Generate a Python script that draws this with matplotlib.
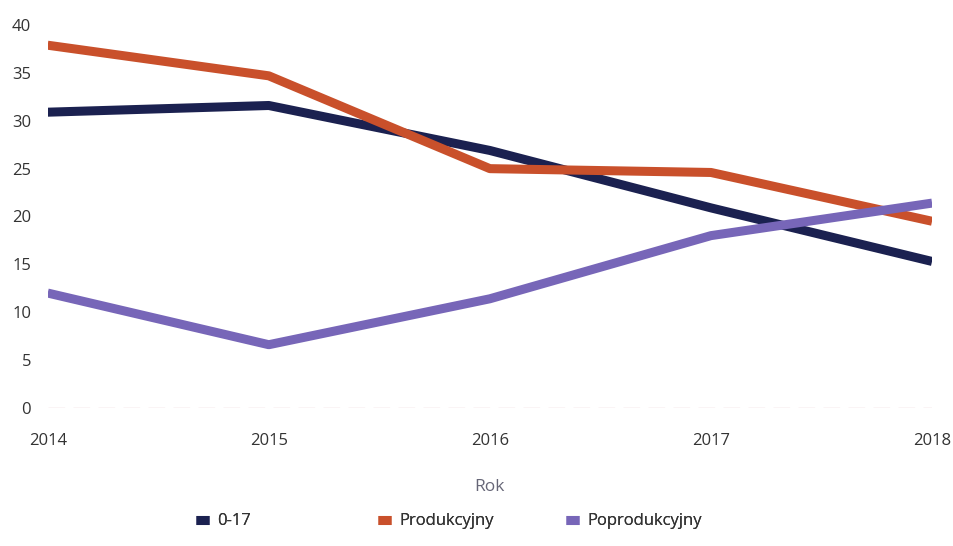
import matplotlib.pyplot as plt

# dane
lata = ['2014', '2015', '2016', '2017', '2018']
wiek_0_17 = [30.9, 31.6, 26.9, 20.9, 15.3]
produkcyjny = [37.9, 34.7, 25.0, 24.6, 19.5]
poprodukcyjny = [12.0, 6.6, 11.4, 18.0, 21.4]

plt.rcParams['font.family'] = ['Open Sans', 'DejaVu Sans']

fig = plt.figure(figsize=(9.54, 5.46), dpi=100)
ax = fig.add_axes([0.050, 0.253, 0.927, 0.701])

x = range(len(lata))
l1, = ax.plot(x, wiek_0_17, color='#1b2150', lw=6.5, label='0-17', solid_capstyle='butt')
l2, = ax.plot(x, produkcyjny, color='#c9502b', lw=6.5, label='Produkcyjny', solid_capstyle='butt')
l3, = ax.plot(x, poprodukcyjny, color='#7766b8', lw=6.5, label='Poprodukcyjny', solid_capstyle='butt')

# linia zerowa, ledwo widoczna
ax.axhline(0, color='#e8c8cc', lw=1, ls=(0, (12, 6)))

ax.set_xlim(0, len(lata) - 1)
ax.set_ylim(0, 40)
ax.set_yticks(range(0, 41, 5))
ax.set_xticks(list(x))
ax.set_xticklabels(lata)
for s in ax.spines.values():
    s.set_visible(False)
ax.tick_params(length=0, labelsize=12, colors='#333333')
ax.tick_params(axis='x', pad=18)
ax.tick_params(axis='y', pad=12)
ax.set_xlabel('Rok', fontsize=12.5, color='#666677', labelpad=22)

# legenda - trzy osobne wpisy, rozstawione jak w oryginale
for h, xpos in [(l1, 0.205), (l2, 0.396), (l3, 0.593)]:
    leg = fig.legend(handles=[h], loc='center left', bbox_to_anchor=(xpos, 0.045),
                     frameon=False, fontsize=12, handlelength=0.8, handletextpad=0.5,
                     borderaxespad=0, borderpad=0, labelcolor='#333333')
    fig.add_artist(leg)

fig.savefig('out.png', dpi=100)
